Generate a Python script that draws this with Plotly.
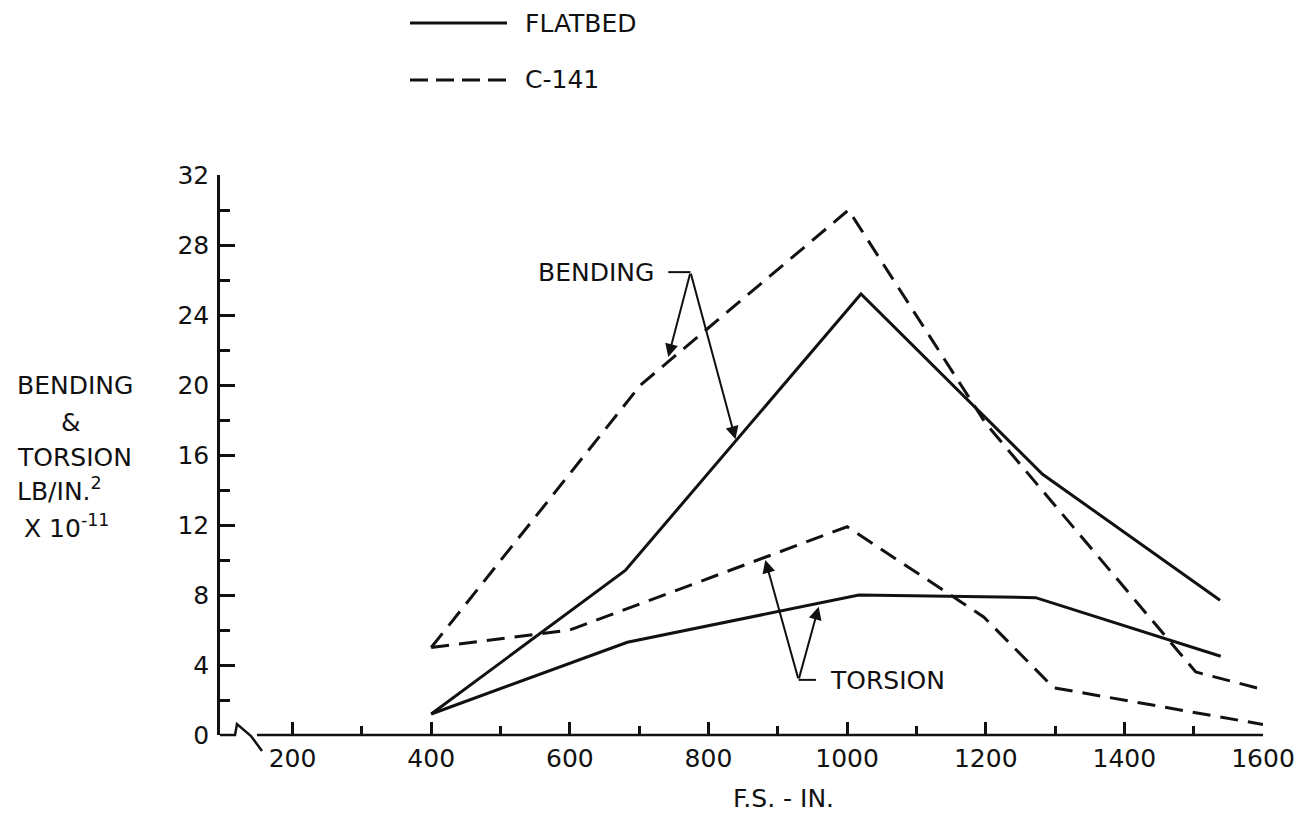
import plotly.graph_objects as go

# ---- data ----
flatbed_bending_x = [400, 680, 1020, 1282, 1538]
flatbed_bending_y = [1.2, 9.4, 25.2, 14.9, 7.7]

c141_bending_x = [400, 702, 1002, 1200, 1503, 1600]
c141_bending_y = [5.0, 20.0, 30.0, 17.8, 3.6, 2.6]

flatbed_torsion_x = [400, 683, 1017, 1272, 1539]
flatbed_torsion_y = [1.2, 5.3, 8.0, 7.85, 4.5]

c141_torsion_x = [400, 600, 1000, 1197, 1298, 1600]
c141_torsion_y = [5.0, 6.0, 11.9, 6.75, 2.7, 0.6]

x_ticks = [200, 400, 600, 800, 1000, 1200, 1400, 1600]
x_minor = [300, 500, 700, 900, 1100, 1300, 1500]
y_ticks = [0, 4, 8, 12, 16, 20, 24, 28, 32]

FONT = "DejaVu Sans"
FS = 25
BLACK = "#111111"
DASH = "18px,10px"

# page offset (default body margin) and plot-area geometry in page pixels
OFF = 8
PL, PR, PT, PB = 220, 1263, 175, 735   # plot area edges on the page
W, H = 1299, 817                       # figure size (fits window with body margin)
L, T = PL - OFF, PT - OFF
R = W - (PR - OFF)
B = H - (PB - OFF)
PW, PH = PR - PL, PB - PT


def px(xp):
    return (xp - PL) / PW


def py(yp):
    return (PB - yp) / PH


fig = go.Figure()
for xs, ys, dash in [
    (flatbed_bending_x, flatbed_bending_y, "solid"),
    (c141_bending_x, c141_bending_y, DASH),
    (flatbed_torsion_x, flatbed_torsion_y, "solid"),
    (c141_torsion_x, c141_torsion_y, DASH),
]:
    fig.add_trace(go.Scatter(x=xs, y=ys, mode="lines",
                             line=dict(color=BLACK, width=3, dash=dash),
                             showlegend=False, hoverinfo="skip"))

shapes = []
# x-axis line with break symbol
shapes.append(dict(type="path", xref="paper", yref="paper",
                   path=f"M {px(220)},{py(735)} L {px(235)},{py(735)} L {px(237)},{py(724)} "
                        f"L {px(251)},{py(736)} L {px(262)},{py(751)}",
                   line=dict(color=BLACK, width=2.5)))
shapes.append(dict(type="line", xref="paper", yref="paper",
                   x0=px(257), y0=py(735), x1=1, y1=py(735),
                   line=dict(color=BLACK, width=2.5)))
# legend samples
shapes.append(dict(type="line", xref="paper", yref="paper",
                   x0=px(410), x1=px(507), y0=py(23), y1=py(23),
                   line=dict(color=BLACK, width=3)))
shapes.append(dict(type="line", xref="paper", yref="paper",
                   x0=px(410), x1=px(507), y0=py(80), y1=py(80),
                   line=dict(color=BLACK, width=3, dash="18px,8px")))
# leader lines for labels
shapes.append(dict(type="line", xref="x", yref="y", x0=742, x1=774, y0=26.45, y1=26.45,
                   line=dict(color=BLACK, width=2)))
shapes.append(dict(type="line", xref="x", yref="y", x0=930, x1=955, y0=3.15, y1=3.15,
                   line=dict(color=BLACK, width=2)))

annotations = []
# legend texts
annotations.append(dict(xref="paper", yref="paper", x=px(523), y=py(23), text="FLATBED",
                        showarrow=False, xanchor="left", yanchor="middle",
                        font=dict(family=FONT, size=FS, color=BLACK)))
annotations.append(dict(xref="paper", yref="paper", x=px(523), y=py(80), text="C-141",
                        showarrow=False, xanchor="left", yanchor="middle",
                        font=dict(family=FONT, size=FS, color=BLACK)))
# y-axis title lines
for txt, xp, yp, anchor in [
    ("BENDING", 15, 385, "left"),
    ("&amp;", 71, 422, "center"),
    ("TORSION", 15, 457, "left"),
    ("LB/IN.<sup>2</sup>", 15, 489, "left"),
    ("X 10<sup>-11</sup>", 22, 526, "left"),
]:
    annotations.append(dict(xref="paper", yref="paper", x=px(xp), y=py(yp), text=txt,
                            showarrow=False, xanchor=anchor, yanchor="middle",
                            font=dict(family=FONT, size=FS, color=BLACK)))
# x-axis title
annotations.append(dict(xref="paper", yref="paper", x=px(783), y=py(798), text="F.S. - IN.",
                        showarrow=False, xanchor="center", yanchor="middle",
                        font=dict(family=FONT, size=FS, color=BLACK)))
# series labels
annotations.append(dict(xref="x", yref="y", x=724, y=26.45, text="BENDING", showarrow=False,
                        xanchor="right", yanchor="middle",
                        font=dict(family=FONT, size=FS, color=BLACK)))
annotations.append(dict(xref="x", yref="y", x=973, y=3.1, text="TORSION", showarrow=False,
                        xanchor="left", yanchor="middle",
                        font=dict(family=FONT, size=FS, color=BLACK)))
# arrows
for (ax_, ay_, x_, y_) in [
    (774, 26.45, 742, 21.6),
    (774, 26.45, 839, 16.9),
    (930, 3.15, 882, 10.0),
    (930, 3.15, 959, 7.33),
]:
    annotations.append(dict(xref="x", yref="y", axref="x", ayref="y", x=x_, y=y_, ax=ax_, ay=ay_,
                            text="", showarrow=True, arrowhead=2, arrowsize=1.3, arrowwidth=2,
                            arrowcolor=BLACK, standoff=0, startstandoff=0))

fig.update_layout(
    width=W, height=H,
    margin=dict(l=L, r=R, t=T, b=B, pad=0),
    paper_bgcolor="white", plot_bgcolor="white",
    font=dict(family=FONT, size=FS, color=BLACK),
    shapes=shapes, annotations=annotations, showlegend=False,
    xaxis=dict(range=[95.3, 1600], showgrid=False, zeroline=False, showline=False,
               tickmode="array", tickvals=x_ticks, ticktext=[str(v) for v in x_ticks],
               ticks="inside", ticklen=13, tickwidth=2.5, tickcolor=BLACK,
               minor=dict(tickmode="array", tickvals=x_minor, ticks="inside", ticklen=9,
                          tickwidth=2.5, tickcolor=BLACK, showgrid=False),
               ticklabelstandoff=6, tickfont=dict(family=FONT, size=FS, color=BLACK)),
    yaxis=dict(range=[0, 32], showgrid=False, zeroline=False, showline=True,
               linecolor=BLACK, linewidth=2.5,
               tickmode="array", tickvals=y_ticks, ticktext=[str(v) for v in y_ticks],
               ticks="inside", ticklen=15, tickwidth=2.5, tickcolor=BLACK,
               minor=dict(dtick=2, tick0=0, ticks="inside", ticklen=10, tickwidth=2.5,
                          tickcolor=BLACK, showgrid=False),
               ticklabelstandoff=3, tickfont=dict(family=FONT, size=FS, color=BLACK)),
)

fig.write_html("out.html")
